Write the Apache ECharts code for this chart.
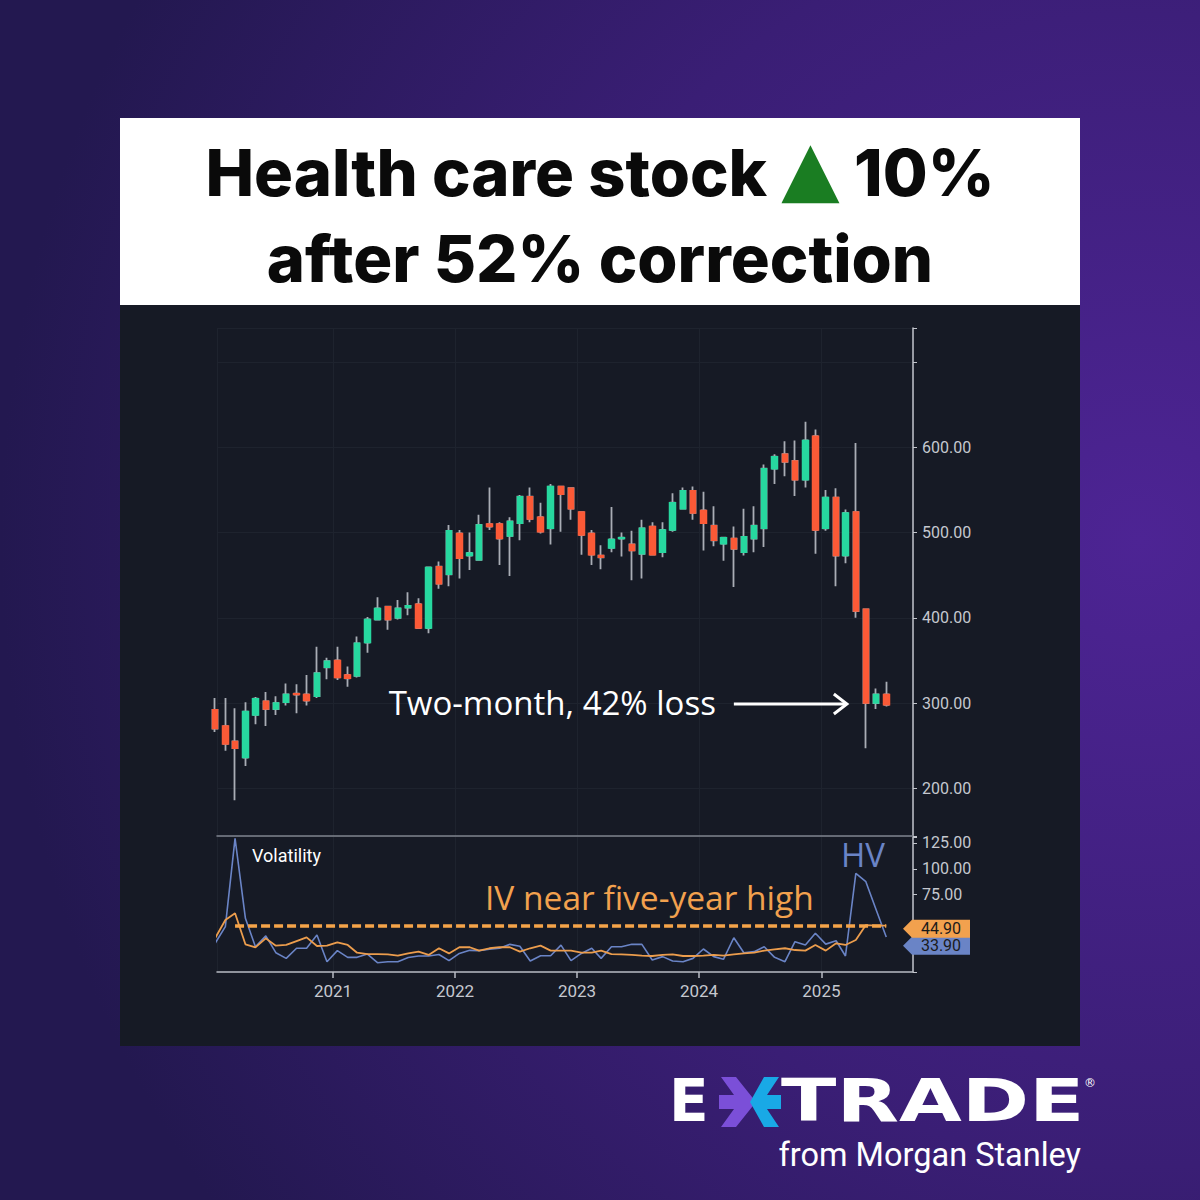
<!DOCTYPE html>
<html><head><meta charset="utf-8">
<script src="https://cdn.jsdelivr.net/npm/echarts@6/dist/echarts.min.js"></script>
<style>html,body{margin:0;padding:0;background:#2b1a5a;}#c{width:1200px;height:1200px;}</style>
</head><body><div id="c"></div>
<script>
// ---------- data (monthly candles, Jan 2020 - Jul 2025) ----------
const months = ['2020-01','2020-02','2020-03','2020-04','2020-05','2020-06','2020-07','2020-08','2020-09','2020-10','2020-11','2020-12',
  '2021-01','2021-02','2021-03','2021-04','2021-05','2021-06','2021-07','2021-08','2021-09','2021-10','2021-11','2021-12',
  '2022-01','2022-02','2022-03','2022-04','2022-05','2022-06','2022-07','2022-08','2022-09','2022-10','2022-11','2022-12',
  '2023-01','2023-02','2023-03','2023-04','2023-05','2023-06','2023-07','2023-08','2023-09','2023-10','2023-11','2023-12',
  '2024-01','2024-02','2024-03','2024-04','2024-05','2024-06','2024-07','2024-08','2024-09','2024-10','2024-11','2024-12',
  '2025-01','2025-02','2025-03','2025-04','2025-05','2025-06','2025-07'];
const open  = [292,273,255,236,286,302,293,301,311,310,308,342, 350,333,332,371,398,413,400,412,416,388,460,451,
  499,473,468,510,510,496,511,542,518,505,554,552, 524,499,473,482,493,486,475,507,477,503,528,549,
  526,508,487,493,477,493,505,575,592,584,562,613, 505,541,473,524,410,300,310];
const high  = [306,306,294,301,307,313,308,323,322,333,366,353, 366,343,378,401,424,414,421,430,423,460,466,509,
  503,500,521,553,512,518,544,553,535,557,555,553, 525,503,485,530,500,502,515,512,512,546,553,554,
  548,531,495,507,528,531,580,592,607,608,630,621, 550,552,527,605,411,317,325];
const low   = [266,244,186,226,275,273,286,297,288,297,306,328, 327,319,330,359,397,386,398,403,387,382,434,437,
  446,456,467,503,462,449,491,512,499,486,501,515, 474,462,457,477,472,444,446,474,471,501,527,515,
  479,484,467,436,473,477,483,557,566,543,553,475, 502,437,464,400,247,293,296];
const close = [270,252,247,290,305,293,300,310,310,303,335,349, 330,329,370,398,411,398,411,414,388,459,440,502,
  470,476,509,507,493,513,542,516,501,554,545,528, 497,474,471,492,494,479,505,474,503,535,549,523,
  511,491,494,481,495,508,575,589,583,562,608,503, 541,473,523,408,300,310,298];
// volatility (%)
const hv = [27.6,44,129.5,52,24.5,35,18.7,13.2,23,23,35.9,10, 20.7,14.2,14.2,17.4,9,10,10,14,15.5,15.5,17,11,
  18,21,20.7,22,23,26.8,25,10.6,15.8,15.8,26,11, 18,23,13.2,24.5,24.5,26.8,26.8,11.6,14.9,10.6,10,13.2,
  22.3,14.9,12.3,33.2,18.7,19.7,24.5,14.2,10,29.4,26.2,37.5, 27,30.3,15.5,95.6,87.5,60,33.9];
const iv = [32.6,50.4,56.9,26.8,23.9,32.6,25.5,26.2,30,33.6,25.2,25.5, 28.8,26.2,18.7,17.4,17.4,17,15.8,18,19.7,16.5,23,18,
  24,24,20.7,23,24,24,19.7,23,25.5,20.7,20.7,20.7, 18.7,18.7,20.7,17.4,17,16.5,15.8,15.5,16.5,17,15.5,15.5,
  15.8,16.5,15.8,17,18,18.7,20.7,22,23,21.3,20.7,26.2, 20.7,27.8,26.2,31,45.5,45,44.9];
const yearLabels = ['2020','2021','2022','2023','2024','2025'];
const priceLabels = [200, 300, 400, 500, 600];
const volLabels = [75, 100, 125];
const titleLine1 = 'Health care stock ';
const titleTri = '\u25B2';
const titleLine1b = ' 10%';
const titleLine2 = 'after 52% correction';
const lossNote = 'Two-month, 42% loss';
const ivNote = 'IV near five-year high';

// ---------- helpers ----------
const T = m => { const p = m.split('-'); return new Date(+p[0], +p[1] - 1, 14).getTime(); };
const xMin = new Date(2020, 0, 20).getTime();
const xMax = new Date(2025, 9, 2).getTime();
const wickData = months.map((m, i) => [T(m), open[i], close[i], low[i], high[i]]);
const bodyData = months.map((m, i) => [T(m), open[i], close[i], Math.min(open[i], close[i]), Math.max(open[i], close[i])]);
const hvData = months.map((m, i) => [T(m), hv[i]]);
const ivData = months.map((m, i) => [T(m), iv[i]]);
const last = months.length - 1;

const AX = '#c5c8cf';
const chart = echarts.init(document.getElementById('c'), null, {renderer: 'svg', width: 1200, height: 1200});

const option = {
  animation: false,
  backgroundColor: 'transparent',
  grid: [
    {left: 217, right: 287, top: 328, bottom: 364},
    {left: 217, right: 287, top: 837, bottom: 228}
  ],
  xAxis: [
    {type: 'time', gridIndex: 0, min: xMin, max: xMax, splitNumber: 6,
      minInterval: 365 * 86400000,
      axisLine: {show: true, lineStyle: {color: '#7f848e', width: 1.5}},
      axisTick: {show: false}, axisLabel: {show: false},
      splitLine: {show: true, lineStyle: {color: '#1e232e', width: 1}}},
    {type: 'time', gridIndex: 1, min: xMin, max: xMax, splitNumber: 6,
      minInterval: 365 * 86400000,
      axisLine: {show: true, lineStyle: {color: '#b8bcc4', width: 1.5}},
      axisTick: {show: true, length: 6, lineStyle: {color: '#b8bcc4', width: 1.5}},
      axisLabel: {color: AX, fontSize: 17, fontFamily: 'Roboto', margin: 10,
        formatter: v => { const y = String(new Date(v).getFullYear()); return yearLabels.indexOf(y) >= 0 ? y : ''; }},
      splitLine: {show: true, lineStyle: {color: '#1e232e', width: 1}}}
  ],
  yAxis: [
    {type: 'value', gridIndex: 0, position: 'right', min: 144, max: 740, scale: true,
      axisLine: {show: true, lineStyle: {color: '#c2c5cc', width: 1.5}},
      axisTick: {show: true, length: 4, lineStyle: {color: '#c2c5cc'}},
      axisLabel: {color: AX, fontSize: 16, fontFamily: 'Roboto', margin: 9,
        formatter: v => (priceLabels.indexOf(Math.round(v)) >= 0 && Math.abs(v - Math.round(v)) < 1e-6 ? v.toFixed(2) : '')},
      splitLine: {show: true, lineStyle: {color: '#1e232e'}}},
    {type: 'value', gridIndex: 1, position: 'right', min: 0, max: 130.8, interval: 25,
      axisLine: {show: true, lineStyle: {color: '#c2c5cc', width: 1.5}},
      axisTick: {show: true, length: 4, lineStyle: {color: '#c2c5cc'}},
      axisLabel: {color: AX, fontSize: 16, fontFamily: 'Roboto', margin: 9,
        formatter: v => (volLabels.indexOf(v) >= 0 ? v.toFixed(2) : '')},
      splitLine: {show: false}}
  ],
  series: [
    {type: 'candlestick', xAxisIndex: 0, yAxisIndex: 0, data: wickData, barWidth: 5,
      itemStyle: {color: '#a9adb5', color0: '#a9adb5', borderColor: '#a9adb5', borderColor0: '#a9adb5', borderWidth: 1.8}},
    {type: 'candlestick', xAxisIndex: 0, yAxisIndex: 0, data: bodyData, barWidth: 6,
      itemStyle: {color: '#27d89f', color0: '#fb5a37', borderColor: '#27d89f', borderColor0: '#fb5a37', borderWidth: 1.5}},
    {type: 'line', xAxisIndex: 1, yAxisIndex: 1, data: hvData, showSymbol: false, symbol: 'none',
      lineStyle: {color: '#6a84c6', width: 1.6}, z: 3},
    {type: 'line', xAxisIndex: 1, yAxisIndex: 1, data: ivData, showSymbol: false, symbol: 'none',
      lineStyle: {color: '#ec9d4d', width: 1.8}, z: 4,
      markLine: {silent: true, symbol: ['none', 'none'], label: {show: false},
        lineStyle: {color: '#f5a449', width: 3.5, type: [9, 4]},
        data: [[{coord: [T(months[2]), iv[last]]}, {coord: [T(months[last]), iv[last]]}]]}}
  ]
};
chart.setOption(option);

// ---------- decorations & annotations ----------
const tip = chart.convertToPixel({gridIndex: 0}, [T(months[last - 2]), close[last - 2]]);
const ivPt = chart.convertToPixel({gridIndex: 1}, [T(months[last]), iv[last]]);
const hvPt = chart.convertToPixel({gridIndex: 1}, [T(months[last]), hv[last]]);
const tipX = tip[0] - 19, tipY = tip[1] + 1;
const tagX = 903;
function tag(y, color, text, z) {
  return [
    {type: 'polygon', z: z, shape: {points: [[tagX, y], [tagX + 9, y - 9], [tagX + 67, y - 9], [tagX + 67, y + 9], [tagX + 9, y + 9]]},
      style: {fill: color}},
    {type: 'text', z: z + 1, style: {text: text, x: tagX + 38, y: y, align: 'center', verticalAlign: 'middle',
      fill: '#1b1b1b', fontSize: 16, fontFamily: 'Roboto'}}
  ];
}
const orangeY = ivPt[1] + 3;
const blueY = Math.max(hvPt[1], orangeY + 17);

const els = [
  {type: 'rect', z: -10, shape: {x: 0, y: 0, width: 1200, height: 1200},
    style: {fill: new echarts.graphic.RadialGradient(0.95, 0.45, 0.95, [
      {offset: 0, color: '#4d2494'}, {offset: 0.55, color: '#3a1e75'}, {offset: 1, color: '#231850'}])}},
  {type: 'rect', z: -9, shape: {x: 120, y: 118, width: 960, height: 187}, style: {fill: '#ffffff'}},
  {type: 'rect', z: -9, shape: {x: 120, y: 305, width: 960, height: 741}, style: {fill: '#161a25'}},
  {type: 'text', z: 50, style: {text: titleLine1 + '{t|' + titleTri + '}' + titleLine1b, x: 600, y: 172,
    align: 'center', verticalAlign: 'middle', fill: '#0a0a0a', fontSize: 65, fontWeight: 800, fontFamily: 'Inter',
    rich: {t: {fill: '#1a7d22', fontSize: 76, fontFamily: 'DejaVu Sans', padding: [0, 0, 9, 0]}}}},
  {type: 'text', z: 50, style: {text: titleLine2, x: 600, y: 258, align: 'center', verticalAlign: 'middle',
    fill: '#0a0a0a', fontSize: 65, fontWeight: 800, fontFamily: 'Inter'}},
  {type: 'text', z: 50, style: {text: lossNote, x: tipX - 131, y: tipY - 2, align: 'right', verticalAlign: 'middle',
    fill: '#ffffff', fontSize: 33, fontFamily: 'Open Sans'}},
  {type: 'line', z: 50, shape: {x1: tipX - 113, y1: tipY, x2: tipX - 1, y2: tipY}, style: {stroke: '#ffffff', lineWidth: 3}},
  {type: 'polyline', z: 50, shape: {points: [[tipX - 13, tipY - 10], [tipX, tipY], [tipX - 13, tipY + 10]]},
    style: {stroke: '#ffffff', lineWidth: 3, fill: null}},
  {type: 'text', z: 50, style: {text: 'Volatility', x: 252, y: 855, align: 'left', verticalAlign: 'middle',
    fill: '#ffffff', fontSize: 18, fontFamily: 'Roboto'}},
  {type: 'text', z: 50, style: {text: 'HV', x: 841, y: 854, align: 'left', verticalAlign: 'middle',
    fill: '#6a84c6', fontSize: 33, fontFamily: 'Open Sans'}},
  {type: 'text', z: 50, style: {text: ivNote, x: 485, y: 897, align: 'left', verticalAlign: 'middle',
    fill: '#f2a14e', fontSize: 33.5, fontFamily: 'Open Sans'}},
  // logo
  {type: 'text', z: 50, x: 669, y: 1101, scaleX: 1.0, style: {text: 'E', x: 0, y: 0, align: 'left', verticalAlign: 'middle',
    fill: '#ffffff', fontSize: 58, fontWeight: 'bold', fontFamily: 'DejaVu Sans'}},
  {type: 'polygon', z: 50, shape: {points: [[721, 1077], [736, 1077], [756, 1102], [736, 1127], [721, 1127], [734, 1109], [719, 1109], [719, 1095], [734, 1095]]},
    style: {fill: '#7b4fd8'}},
  {type: 'polygon', z: 51, shape: {points: [[764, 1077], [779, 1077], [767, 1095], [781, 1095], [781, 1109], [767, 1109], [779, 1127], [764, 1127], [750, 1102]]},
    style: {fill: '#19a9e6'}},
  {type: 'text', z: 50, x: 781, y: 1101, scaleX: 1.4, style: {text: 'TRADE', x: 0, y: 0, align: 'left', verticalAlign: 'middle',
    fill: '#ffffff', fontSize: 58, fontWeight: 'bold', fontFamily: 'DejaVu Sans'}},
  {type: 'text', z: 50, style: {text: '\u00AE', x: 1090, y: 1083, align: 'center', verticalAlign: 'middle',
    fill: '#ffffff', fontSize: 12, fontFamily: 'DejaVu Sans'}},
  {type: 'text', z: 50, style: {text: 'from Morgan Stanley', x: 1081, y: 1155, align: 'right', verticalAlign: 'middle',
    fill: '#ffffff', fontSize: 32.5, fontFamily: 'Roboto'}}
].concat(tag(blueY, '#6a84c6', hv[last].toFixed(2), 60)).concat(tag(orangeY, '#f2a14e', iv[last].toFixed(2), 62));

chart.setOption({graphic: {elements: els}});
</script>
</body></html>
